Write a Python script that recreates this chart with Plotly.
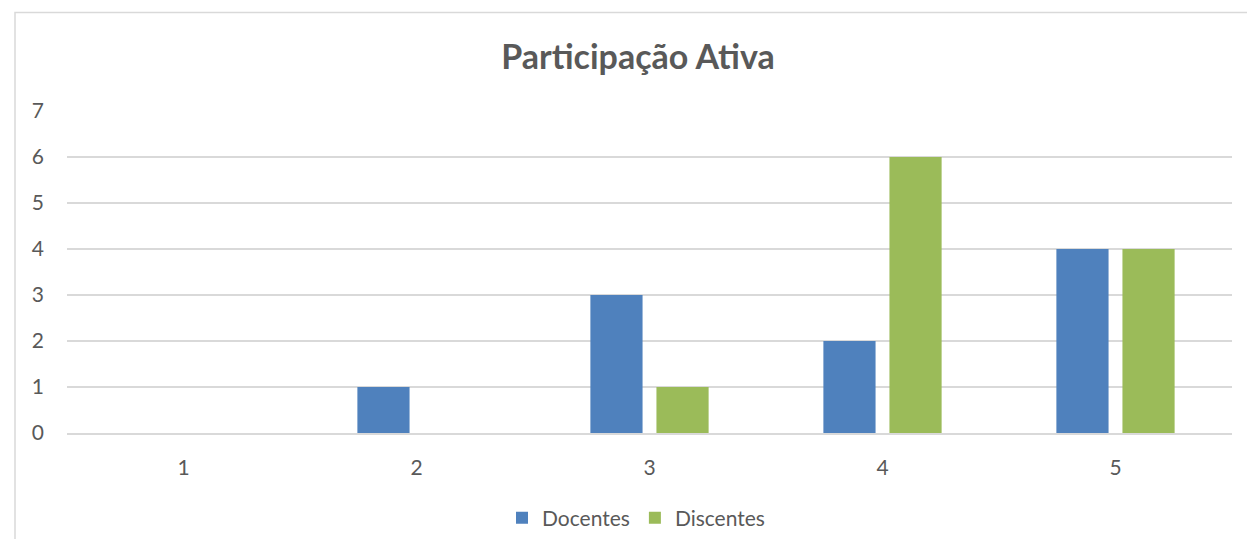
import plotly.graph_objects as go

categorias = ["1", "2", "3", "4", "5"]
docentes = [0, 1, 3, 2, 4]
discentes = [0, 0, 1, 6, 4]

# page body has an 8px margin, so figure coordinates are screen - 8
W, H = 1239, 531
L, R, T, B = 59, 15, 103, 106
ph = H - T - B
pw = W - L - R

fig = go.Figure()
fig.add_trace(go.Bar(x=categorias, y=docentes, name="Docentes",
                     marker=dict(color="#4F81BD", line=dict(width=0))))
fig.add_trace(go.Bar(x=categorias, y=discentes, name="Discentes",
                     marker=dict(color="#9BBB59", line=dict(width=0))))

fig.update_layout(
    width=W, height=H,
    margin=dict(l=L, r=R, t=T, b=B, autoexpand=False),
    paper_bgcolor="white", plot_bgcolor="white",
    font=dict(family="Lato, Noto Sans, sans-serif", size=17, color="#595959"),
    title=dict(text="<b>Participação Ativa</b>", x=(638 - 8) / W, xanchor="center",
               y=1 - 49 / H, yanchor="middle",
               font=dict(size=34, color="#595959")),
    barmode="group", bargap=0.433, bargroupgap=0.21,
    legend=dict(orientation="h", x=(636 - 8 - L) / pw, xanchor="center",
                y=(T + ph - 510) / ph, yanchor="middle",
                font=dict(size=21), traceorder="normal"),
    xaxis=dict(showgrid=False, showline=True, linecolor="#D9D9D9", linewidth=1.5,
               ticklabelstandoff=15, tickfont=dict(size=21)),
    yaxis=dict(range=[0, 7], dtick=1, showgrid=True, gridcolor="#D9D9D9", gridwidth=1.5,
               zeroline=False, ticklabelstandoff=22, tickfont=dict(size=21),
               fixedrange=True),
    shapes=[dict(type="rect", xref="paper", yref="paper",
                 x0=(7 - L) / pw, x1=1.2,
                 y0=-0.6, y1=1 + (T - 4.5) / ph,
                 line=dict(color="#D9D9D9", width=1.5), layer="below")],
)

fig.write_html("out.html")
